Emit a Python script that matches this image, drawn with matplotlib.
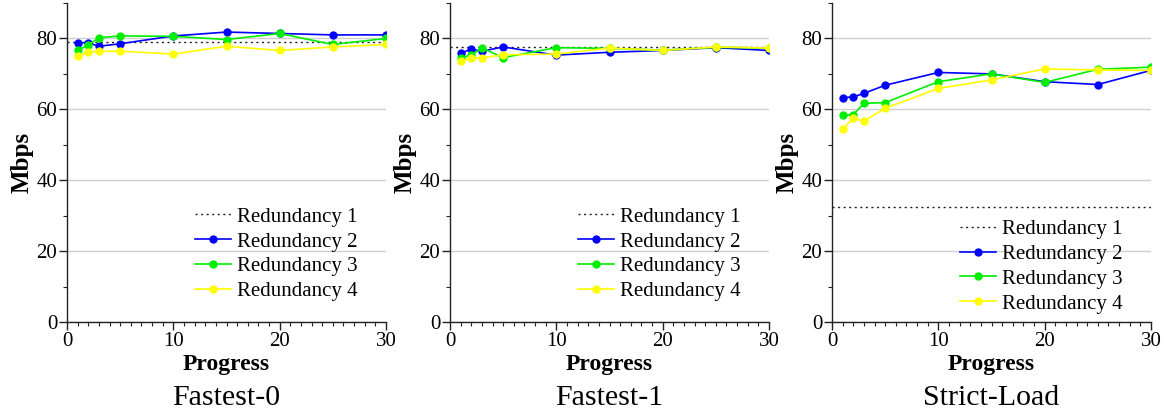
import matplotlib
matplotlib.use("Agg")
import matplotlib.pyplot as plt
from matplotlib.ticker import MultipleLocator

plt.rcParams['font.family'] = ['Liberation Serif', 'DejaVu Serif']

progress = [1, 2, 3, 5, 10, 15, 20, 25, 30]
panel_titles = ["Fastest-0", "Fastest-1", "Strict-Load"]
series_labels = ["Redundancy 1", "Redundancy 2", "Redundancy 3", "Redundancy 4"]

# Redundancy 1 baseline per panel (flat across the whole run)
red1 = [78.9, 77.5, 32.5]
red1_span = [0, 30]

red2 = [
    [78.8, 78.8, 77.8, 78.5, 80.7, 81.8, 81.4, 81.0, 81.0],
    [75.8, 77.0, 76.4, 77.6, 75.3, 76.1, 76.6, 77.4, 76.6],
    [63.3, 63.5, 64.5, 66.8, 70.4, 70.0, 67.8, 67.0, 71.0],
]
red3 = [
    [76.7, 78.1, 80.2, 80.7, 80.6, 79.7, 81.4, 78.3, 80.0],
    [74.5, 75.3, 77.3, 74.6, 77.4, 77.2, 76.7, 77.5, 77.3],
    [58.3, 58.5, 61.7, 61.9, 67.8, 70.0, 67.6, 71.3, 71.9],
]
red4 = [
    [75.0, 76.1, 76.4, 76.4, 75.6, 77.8, 76.6, 77.6, 78.3],
    [73.6, 74.4, 74.5, 75.4, 75.6, 77.3, 76.6, 77.6, 77.3],
    [54.4, 57.5, 56.7, 60.3, 65.9, 68.3, 71.4, 71.1, 71.0],
]

colors = ["#222222", "#0000ff", "#00ee00", "#ffff00"]

W, H = 1167, 415
fig = plt.figure(figsize=(W / 100, H / 100), dpi=100)

lefts = [67, 450, 832]
ax_w = 319
ax_top, ax_bot = 3, 322
legend_anchor = [(0.40, 0.36), (0.40, 0.36), (0.40, 0.321)]

for i in range(3):
    ax = fig.add_axes([lefts[i] / W, 1 - ax_bot / H, ax_w / W, (ax_bot - ax_top) / H])
    ax.plot(red1_span, [red1[i], red1[i]], color=colors[0],
            linestyle=(0, (1.5, 2.5)), lw=1.0, label=series_labels[0])
    for vals, col, lab in zip([red2[i], red3[i], red4[i]], colors[1:], series_labels[1:]):
        ax.plot(progress, vals, color=col, lw=1.2, marker="o", markersize=6,
                markeredgewidth=0, label=lab)

    ax.set_xlim(0, 30)
    ax.set_ylim(0, 90)
    ax.xaxis.set_major_locator(MultipleLocator(10))
    ax.xaxis.set_minor_locator(MultipleLocator(1))
    ax.yaxis.set_major_locator(MultipleLocator(20))
    ax.yaxis.set_minor_locator(MultipleLocator(10))
    ax.set_yticks([0, 20, 40, 60, 80])
    ax.grid(axis="y", which="major", color="#d0d0d0", lw=1.0)
    ax.set_axisbelow(True)
    for s in ["top", "right"]:
        ax.spines[s].set_visible(False)
    for s in ["left", "bottom"]:
        ax.spines[s].set_color("#222222")
        ax.spines[s].set_linewidth(1.0)
    ax.tick_params(which="major", direction="out", length=6, width=1.0,
                   labelsize=15, pad=1, colors="#222222", labelcolor="black")
    ax.tick_params(which="minor", direction="out", length=3, width=0.8, colors="#222222")
    ax.set_ylabel("Mbps", fontsize=18, fontweight="bold", labelpad=2)
    ax.set_xlabel("Progress", fontsize=17, fontweight="bold", labelpad=2)
    ax.text(0.5, -0.196, panel_titles[i], transform=ax.transAxes, ha="center",
            va="top", fontsize=21.5)

    leg = ax.legend(loc="upper left", bbox_to_anchor=legend_anchor[i], frameon=False,
                    fontsize=15, handlelength=1.75, handletextpad=0.3,
                    labelspacing=0.25, borderpad=0, borderaxespad=0)

fig.savefig("out.png", dpi=100)
